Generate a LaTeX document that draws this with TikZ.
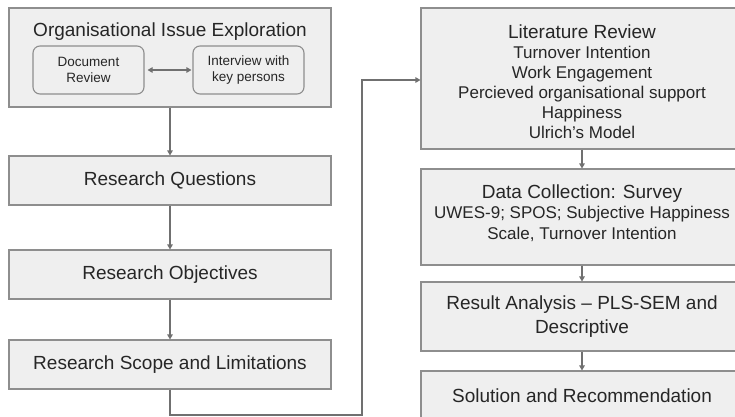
\documentclass[tikz,border=0pt]{standalone}
\usepackage{fontspec}
\setmainfont{Liberation Sans}
\usetikzlibrary{arrows.meta}
\definecolor{boxfill}{HTML}{EFEFEF}
\definecolor{boxline}{HTML}{8E8E8E}
\definecolor{conn}{HTML}{707070}
\definecolor{txt}{HTML}{262626}
\tikzset{
  box/.style={draw=boxline, fill=boxfill, line width=1.1pt, inner sep=0pt},
  subbox/.style={box, rounded corners=7pt, text=txt, align=center,
    font=\fontsize{13.5}{16}\selectfont},
  label/.style={text=txt, align=center, inner sep=0pt},
  big/.style={font=\fontsize{19}{24}\selectfont},
  conn/.style={draw=conn, line width=1.1pt, -{Triangle[length=5pt,width=5.5pt]}},
}
\begin{document}
\begin{tikzpicture}[x=1pt,y=-1pt]
\useasboundingbox (0,0) rectangle (735,416);
\clip (0,0) rectangle (735,416);
\fill[white] (0,0) rectangle (735,416);
% left column
\node[box, minimum width=322pt, minimum height=99pt] (org) at (170,57.5) {};
\node[label, big] (orgt) at (170,32) {Organisational Issue Exploration};
\node[subbox, minimum width=111pt, minimum height=48pt] (doc) at (88.5,70) {Document\\Review};
\node[subbox, minimum width=111pt, minimum height=48pt] (int) at (248.5,70) {Interview with\\key persons};
\node[box, big, text=txt, minimum width=322pt, minimum height=49pt] (rq) at (170,180.5) {Research Questions};
\node[box, big, text=txt, minimum width=322pt, minimum height=49pt] (ro) at (170,274.5) {Research Objectives};
\node[box, big, text=txt, minimum width=322pt, minimum height=49pt] (rs) at (170,364.5) {Research Scope and Limitations};
% right column
\node[box, minimum width=322pt, minimum height=141pt] (lit) at (582,78.5) {};
\node[label, font=\fontsize{17}{20}\selectfont] (litt) at (582,82) {{\fontsize{19}{20}\selectfont Literature Review}\\Turnover Intention\\Work Engagement\\Percieved organisational support\\Happiness\\Ulrich's Model};
\node[box, minimum width=322pt, minimum height=96pt] (dc) at (582,217) {};
\node[label, font=\fontsize{17}{20.5}\selectfont] (dct) at (582,213) {{\fontsize{19}{20.5}\selectfont Data Collection: Survey}\\UWES-9; SPOS; Subjective Happiness\\Scale, Turnover Intention};
\node[box, big, text=txt, align=center, minimum width=322pt, minimum height=69pt] (ra) at (582,316.5) {Result Analysis -- PLS-SEM and\\Descriptive};
\node[box, big, text=txt, minimum width=322pt, minimum height=49pt] (sol) at (582,395.5) {Solution and Recommendation};
% connectors
\draw[conn, {Triangle[length=5pt,width=5.5pt]}-{Triangle[length=5pt,width=5.5pt]}] ([xshift=3pt]doc.east) -- ([xshift=-1pt]int.west);
\draw[conn] (org) -- (rq);
\draw[conn] (rq) -- (ro);
\draw[conn] (ro) -- (rs);
\coordinate (c1) at (170,415);
\coordinate (c2) at (362,415);
\coordinate (c3) at (362,80);
\draw[conn] (rs.south) -- (c1) -- (c2) -- (c3) -- (c3 -| lit.west);
\draw[conn] (lit) -- (dc);
\draw[conn] (dc) -- (ra);
\draw[conn] (ra) -- (sol);
\end{tikzpicture}
\end{document}
